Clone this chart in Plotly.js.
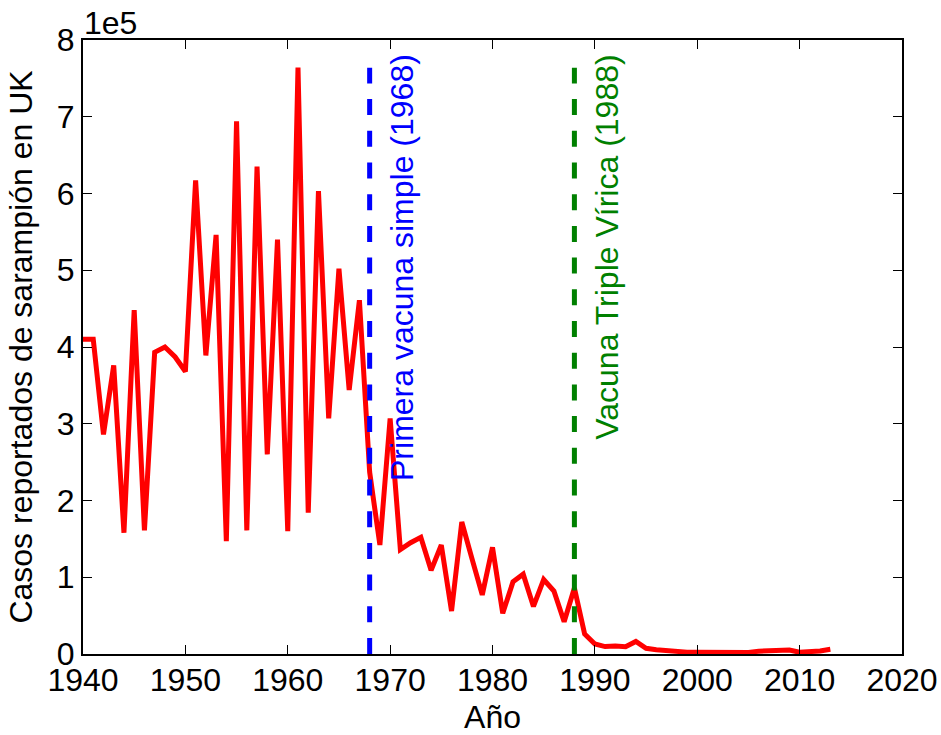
<!DOCTYPE html>
<html>
<head>
<meta charset="utf-8">
<script src="https://cdn.plot.ly/plotly-3.0.1.min.js"></script>
<style>html,body{margin:0;padding:0;background:#fff;}#chart{width:941px;height:735px;}</style>
</head>
<body>
<div id="chart"></div>
<script>
const years = [];
for (let y = 1940; y <= 2013; y++) years.push(y);
const cases = [
  410000, 410000, 286000, 376000, 158000, 448000, 161000, 393000, 400000, 387000,
  368000, 617000, 389000, 546000, 147000, 694000, 161000, 635000, 260000, 540000,
  160000, 764000, 184000, 603000, 307000, 502000, 344000, 461000, 237000, 142000,
  307000, 136000, 145000, 152000, 109000, 142000, 56000, 172000, 124000, 77000,
  139000, 53000, 94000, 104000, 62000, 97000, 82000, 42000, 86000, 26000,
  13000, 9700, 10300, 9600, 16400, 7400, 5600, 4000, 3700, 2400,
  2400, 2300, 3000, 2400, 2400, 2100, 3700, 3700, 5100, 5200,
  2200, 2300, 4000, 6200
];
const xTicks = [1940, 1950, 1960, 1970, 1980, 1990, 2000, 2010, 2020];
const yTickVals = [0, 100000, 200000, 300000, 400000, 500000, 600000, 700000, 800000];
const yTickText = ['0', '1', '2', '3', '4', '5', '6', '7', '8'];
const vaccineYears = [1968, 1988];
const vaccineLabels = ['Primera vacuna simple (1968)', 'Vacuna Triple Vírica (1988)'];
const vaccineColors = ['#0000ff', '#008000'];

const font = 'Liberation Sans, Arial, sans-serif';
const maxCases = Math.max(...cases);

const shapes = vaccineYears.map((yr, i) => ({
  type: 'line', xref: 'x', yref: 'y', x0: yr, x1: yr, y0: 0, y1: maxCases,
  line: {color: vaccineColors[i], width: 5, dash: '16px,15.7px'}, layer: 'above'
}));

const annotations = vaccineYears.map((yr, i) => ({
  x: yr + 2, y: 780000, xref: 'x', yref: 'y', text: vaccineLabels[i],
  textangle: -90, xanchor: 'left', yanchor: 'top', showarrow: false, borderpad: 0,
  xshift: -7, yshift: 2,
  font: {family: font, size: 32, color: vaccineColors[i]}
}));
annotations.push({
  x: 0, y: 1, xref: 'paper', yref: 'paper', text: '1e5', xanchor: 'left', yanchor: 'bottom',
  showarrow: false, borderpad: 0, yshift: -2, font: {family: font, size: 32, color: '#000'}
});

const trace = {
  x: years, y: cases, type: 'scatter', mode: 'lines',
  line: {color: '#ff0000', width: 5}, hoverinfo: 'skip'
};

const layout = {
  width: 941, height: 735,
  margin: {l: 83, r: 39, t: 40, b: 81},
  paper_bgcolor: '#fff', plot_bgcolor: '#fff',
  showlegend: false,
  font: {family: font, size: 32, color: '#000'},
  xaxis: {
    range: [1940, 2020], tickvals: xTicks, ticktext: xTicks.map(String),
    ticks: 'inside', ticklen: 9, tickwidth: 1, tickcolor: '#000',
    showline: true, linewidth: 2, linecolor: '#000', mirror: 'ticks',
    showgrid: false, zeroline: false, ticklabelstandoff: -3,
    tickfont: {family: font, size: 32},
    title: {text: 'Año', font: {family: font, size: 32}, standoff: 8}
  },
  yaxis: {
    range: [0, 800000], tickvals: yTickVals, ticktext: yTickText,
    ticks: 'inside', ticklen: 9, tickwidth: 1, tickcolor: '#000',
    showline: true, linewidth: 2, linecolor: '#000', mirror: 'ticks',
    showgrid: false, zeroline: false,
    tickfont: {family: font, size: 32},
    title: {text: 'Casos reportados de sarampión en UK', font: {family: font, size: 32}, standoff: 15}
  },
  shapes: shapes,
  annotations: annotations
};

Plotly.newPlot('chart', [trace], layout, {displayModeBar: false, staticPlot: true});
</script>
</body>
</html>
